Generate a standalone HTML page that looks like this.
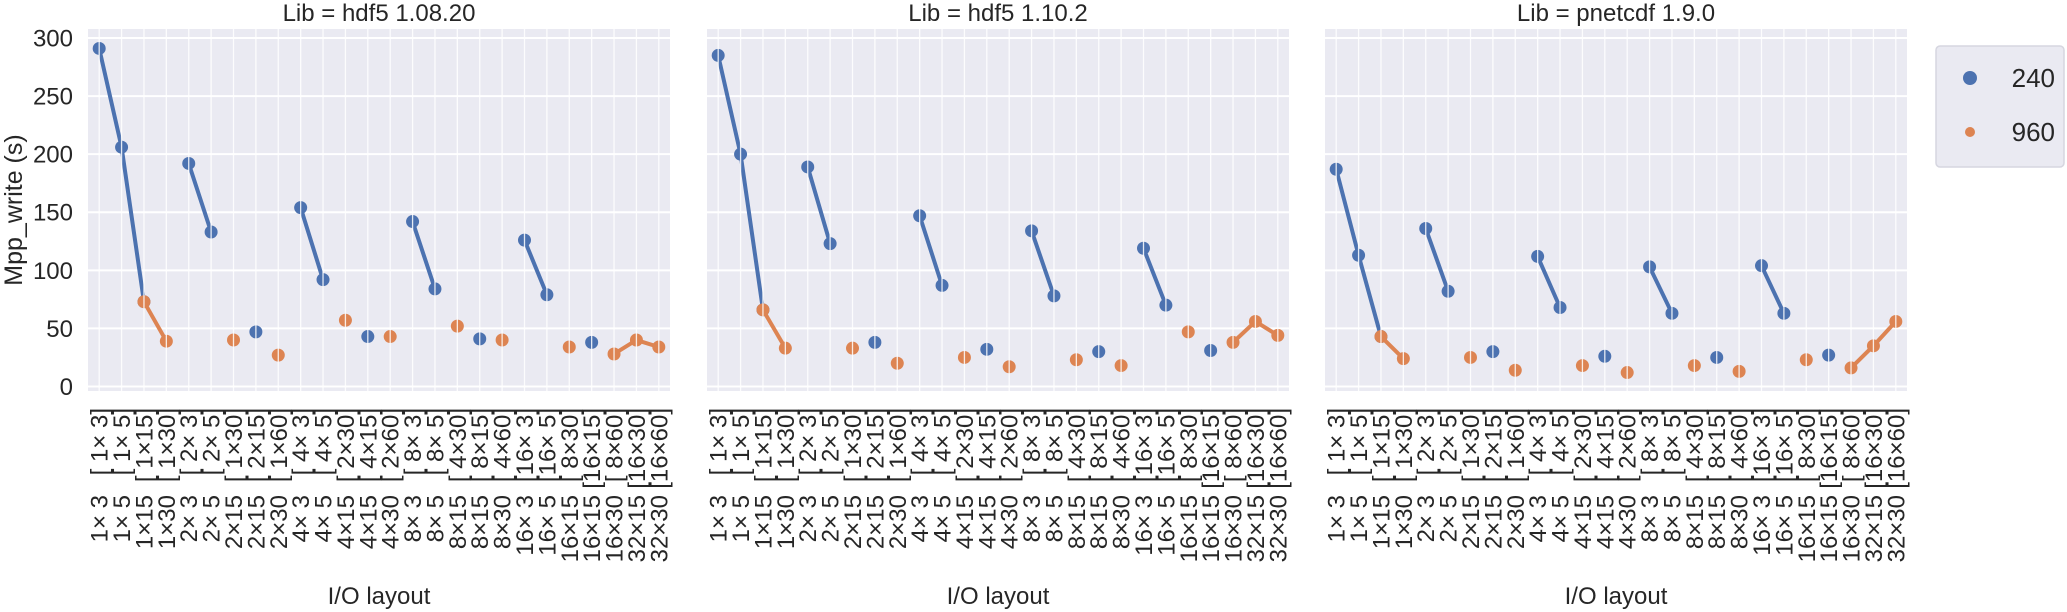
<!DOCTYPE html>
<html><head><meta charset="utf-8"><style>
html,body{margin:0;padding:0;background:#fff}
svg{display:block;font-family:"Liberation Sans",sans-serif}
</style></head><body>
<svg id="chart" width="2067" height="612" xmlns="http://www.w3.org/2000/svg"></svg>
<script>
const categories = ["1× 3|[ 1× 3]","1× 5|[ 1× 5]","1×15|[ 1×15]","1×30|[ 1×30]","2× 3|[ 2× 3]","2× 5|[ 2× 5]","2×15|[ 1×30]","2×15|[ 2×15]","2×30|[ 1×60]","4× 3|[ 4× 3]","4× 5|[ 4× 5]","4×15|[ 2×30]","4×15|[ 4×15]","4×30|[ 2×60]","8× 3|[ 8× 3]","8× 5|[ 8× 5]","8×15|[ 4×30]","8×15|[ 8×15]","8×30|[ 4×60]","16× 3|[16× 3]","16× 5|[16× 5]","16×15|[ 8×30]","16×15|[16×15]","16×30|[ 8×60]","32×15|[16×30]","32×30|[16×60]"];
const panelTitles = ["Lib = hdf5 1.08.20","Lib = hdf5 1.10.2","Lib = pnetcdf 1.9.0"];
const yTicks = [0,50,100,150,200,250,300];
const seriesNames = ["240","960"];
const p1_240 = [291,206,73,null,192,133,null,47,null,154,92,null,43,null,142,84,null,41,null,126,79,null,38,null,null,null];
const p1_960 = [null,null,73,39,null,null,40,null,27,null,null,57,null,43,null,null,52,null,40,null,null,34,null,28,40,34];
const p2_240 = [285,200,66,null,189,123,null,38,null,147,87,null,32,null,134,78,null,30,null,119,70,null,31,null,null,null];
const p2_960 = [null,null,66,33,null,null,33,null,20,null,null,25,null,17,null,null,23,null,18,null,null,47,null,38,56,44];
const p3_240 = [187,113,43,null,136,82,null,30,null,112,68,null,26,null,103,63,null,25,null,104,63,null,27,null,null,null];
const p3_960 = [null,null,43,24,null,null,25,null,14,null,null,18,null,12,null,null,18,null,13,null,null,23,null,16,35,56];

const NS="http://www.w3.org/2000/svg";
const svg=document.getElementById('chart');
const colors=["#4c72b0","#dd8452"];
const panels=[{x0:88,x1:670,s:[p1_240,p1_960]},{x0:707,x1:1289,s:[p2_240,p2_960]},{x0:1325,x1:1907,s:[p3_240,p3_960]}];
const plotTop=29,plotBottom=391;
function yScale(v){return 386.5 - v*1.1617;}
function mk(tag,attrs,parent){const e=document.createElementNS(NS,tag);for(const k in attrs)e.setAttribute(k,attrs[k]);(parent||svg).appendChild(e);return e;}

panels.forEach((p,pi)=>{
  const step=(p.x1-p.x0)/categories.length;
  const xScale=i=>p.x0+step*(i+0.5);
  const g=mk('g',{});
  
  
  const bg=mk('rect',{x:p.x0,y:plotTop,width:p.x1-p.x0,height:plotBottom-plotTop,fill:'#eaeaf2'},g);
  
  
  yTicks.forEach(t=>{
    const l=mk('line',{x1:p.x0,x2:p.x1,y1:yScale(t),y2:yScale(t),stroke:'#fff','stroke-width':2},g);
    
    
    if(pi===0){
      const tx=mk('text',{x:73,y:yScale(t)+8.5,'text-anchor':'end','font-size':24,fill:'#262626'},g);
      tx.textContent=t;
      
      
    }
  });
  const tt=mk('text',{x:(p.x0+p.x1)/2,y:21,'text-anchor':'middle','font-size':24,fill:'#262626'},g);
  tt.textContent=panelTitles[pi];
  
  
  p.s.forEach((vals,si)=>{
    for(let i=0;i<vals.length-1;i++){
      if(vals[i]!=null&&vals[i+1]!=null){
        const l=mk('line',{x1:xScale(i),y1:yScale(vals[i]),x2:xScale(i+1),y2:yScale(vals[i+1]),stroke:colors[si],'stroke-width':4,'stroke-linecap':'round'},g);
        
        
      }
    }
    vals.forEach((v,i)=>{
      if(v==null)return;
      const c=mk('circle',{cx:xScale(i),cy:yScale(v),r:6.5,fill:colors[si]},g);
      
      
    });
  });
  categories.forEach((c,i)=>{
    const x=xScale(i);
    const l=mk('line',{x1:x,x2:x,y1:plotTop,y2:plotBottom,stroke:'#fff','stroke-width':1.3,'stroke-opacity':0.85},g);
    
    
    const parts=c.split('|');
    const t1=mk('text',{transform:`translate(${x+8.5},408) rotate(-90)`,'text-anchor':'end','font-size':24,fill:'#262626'},g);
    t1.textContent=parts[1];
    
    
    const t2=mk('text',{transform:`translate(${x+8.5},495) rotate(-90)`,'text-anchor':'end','font-size':24,fill:'#262626'},g);
    t2.textContent=parts[0];
    
    
  });
  const xl=mk('text',{x:(p.x0+p.x1)/2,y:604,'text-anchor':'middle','font-size':24,fill:'#262626'},g);
  xl.textContent='I/O layout';
  
  
});
const yl=mk('text',{transform:'translate(22,210) rotate(-90)','text-anchor':'middle','font-size':25,fill:'#262626'});
yl.textContent='Mpp_write (s)';


const lg=mk('g',{});


const lb=mk('rect',{x:1936,y:46,width:128,height:121,rx:4,fill:'#eaeaf2',stroke:'#d6d6e0','stroke-width':1.5},lg);


[[78,7],[132,5]].forEach((d,i)=>{
  const c=mk('circle',{cx:1970,cy:d[0],r:d[1],fill:colors[i]},lg);
  
  
  const t=mk('text',{x:2055,y:d[0]+9,'text-anchor':'end','font-size':26,fill:'#262626'},lg);
  t.textContent=seriesNames[i];
  
  
});
</script>
</body></html>
